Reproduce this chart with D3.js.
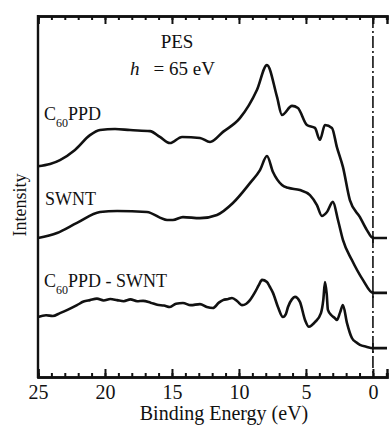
<!DOCTYPE html>
<html>
<head>
<meta charset="utf-8">
<script src="https://cdn.jsdelivr.net/npm/d3@7"></script>
<style>
  body { margin: 0; background: #fff; }
  svg text { font-family: 'Liberation Serif', 'DejaVu Serif', 'Times New Roman', Times, serif !important; fill: #111; }
</style>
</head>
<body>
<div id="chart"></div>
<script>
// binding energy (eV) and intensity (arb. units, offset per curve)
const c60Energy = [25, 24.1, 23.36, 22.24, 21.12, 20.37, 19.25, 18.13, 16.64, 15.9, 15.15, 14.25, 12.91, 12.16, 11.19, 9.93, 8.66, 7.91, 7.16, 6.79, 6.04, 5.6, 4.93, 4.33, 3.96, 3.58, 3.06, 2.69, 2.24, 1.72, 0.97, 0.45, 0, -1.05];
const c60Value  = [58.4, 59.0, 60.1, 62.9, 67.0, 68.4, 68.7, 68.4, 68.1, 66.5, 64.8, 66.5, 66.2, 65.1, 67.9, 71.7, 79.5, 86.4, 77.6, 72.6, 75.1, 74.5, 69.8, 69.0, 65.7, 69.8, 69.0, 63.7, 58.2, 49.0, 44.3, 40.7, 38.5, 38.5];

const swntEnergy = [25, 23.58, 22.09, 20.37, 19.1, 16.87, 15.37, 14.93, 14.18, 12.91, 11.64, 10.45, 9.18, 8.43, 7.91, 7.46, 6.79, 6.34, 5.45, 4.7, 4.18, 3.81, 3.43, 2.99, 2.61, 2.24, 1.57, 0.75, 0, -1.05];
const swntValue  = [38.5, 39.9, 42.7, 45.7, 46.0, 45.7, 43.5, 43.5, 44.3, 44.0, 44.9, 48.2, 53.7, 57.3, 61.2, 56.8, 53.2, 52.4, 51.8, 50.4, 47.6, 44.6, 45.7, 48.5, 43.5, 38.0, 32.4, 26.9, 23.3, 23.3];

const diffEnergy = [25, 24.4, 23.9, 23.36, 22.8, 22.09, 21.6, 21.12, 20.6, 20.1, 19.6, 19.1, 18.6, 18.1, 17.6, 17.16, 16.6, 16.1, 15.6, 15.15, 14.7, 14.18, 13.6, 12.91, 12.4, 11.94, 11.5, 11.19, 10.8, 10.52, 10.1, 9.78, 9.45, 9.18, 8.8, 8.5, 8.28, 7.91, 7.7, 7.46, 7.09, 6.72, 6.5, 6.34, 6.05, 5.82, 5.45, 5.07, 4.78, 4.55, 4.33, 3.88, 3.7, 3.58, 3.45, 3.36, 3.1, 2.84, 2.69, 2.45, 2.24, 1.94, 1.57, 1.25, 0.97, 0.5, 0, -1.05];
const diffValue  = [16.6, 17.1, 16.9, 17.7, 18.6, 19.9, 20.9, 21.3, 21.7, 21.2, 21.6, 21.3, 21.0, 21.5, 21.0, 21.1, 20.6, 20.0, 19.8, 19.4, 20.3, 20.5, 19.9, 20.2, 19.4, 19.1, 20.6, 21.3, 21.6, 21.9, 20.9, 19.9, 20.3, 21.3, 23.5, 25.6, 26.9, 26.3, 25.0, 23.3, 19.4, 16.6, 17.4, 19.4, 21.5, 22.2, 20.8, 15.8, 13.9, 14.4, 15.2, 17.7, 21.5, 26.3, 23.0, 18.6, 17.1, 16.3, 15.8, 17.9, 19.9, 15.0, 10.8, 9.6, 8.9, 8.4, 8.0, 8.0];

const seriesNames = ['C60PPD', 'SWNT', 'C60PPD - SWNT'];
const majorTicks = [25, 20, 15, 10, 5, 0];
const minorTicks = d3.range(-1, 26, 1);
const yDomain = [0, 100];
const xDomain = [25, -1.05];

const width = 390, height = 428;
const margin = { top: 16, right: 3, bottom: 51, left: 38 };
const serif = "'Liberation Serif', 'DejaVu Serif', 'Times New Roman', Times, serif";

const svg = d3.select('#chart').append('svg')
  .attr('width', width)
  .attr('height', height)
  .attr('font-family', serif);

const x = d3.scaleLinear().domain(xDomain).range([margin.left, width - margin.right]);
const y = d3.scaleLinear().domain(yDomain).range([height - margin.bottom, margin.top]);

const series = [
  { name: seriesNames[0], e: c60Energy, v: c60Value },
  { name: seriesNames[1], e: swntEnergy, v: swntValue },
  { name: seriesNames[2], e: diffEnergy, v: diffValue }
];

// dash-dot Fermi level line
svg.append('line')
  .attr('x1', x(0)).attr('x2', x(0))
  .attr('y1', y(100)).attr('y2', y(0))
  .attr('stroke', '#111')
  .attr('stroke-width', 1.6)
  .attr('stroke-dasharray', '12,3,2,3');

const line = d3.line()
  .x(d => x(d[0]))
  .y(d => y(d[1]))
  .curve(d3.curveMonotoneX);

series.forEach(s => {
  const pts = s.e.map((e, i) => [e, s.v[i]]);
  svg.append('path')
    .datum(pts)
    .attr('fill', 'none')
    .attr('stroke', '#111')
    .attr('stroke-width', 2.6)
    .attr('stroke-linejoin', 'round')
    .attr('d', line);
  // small mark where the curve crosses E = 0
  const v0 = s.v[s.e.indexOf(0)];
  svg.append('line')
    .attr('x1', x(0)).attr('x2', x(0))
    .attr('y1', y(v0) - 5).attr('y2', y(v0) + 5)
    .attr('stroke', '#111')
    .attr('stroke-width', 1.6);
});

// axes: ticks point inward
const gBottom = svg.append('g').attr('transform', `translate(0,${y(0)})`);
gBottom.call(d3.axisBottom(x).tickValues(minorTicks).tickSize(-4).tickFormat(''));
gBottom.call(g => g.append('g').call(d3.axisBottom(x).tickValues(majorTicks).tickSize(-8).tickFormat(d3.format('d'))));

const gTop = svg.append('g').attr('transform', `translate(0,${y(100)})`);
gTop.call(d3.axisTop(x).tickValues(minorTicks).tickSize(-4).tickFormat(''));
gTop.call(g => g.append('g').call(d3.axisTop(x).tickValues(majorTicks).tickSize(-8).tickFormat('')));

svg.selectAll('g').attr('font-family', serif);
svg.selectAll('.domain').attr('stroke', '#111').attr('stroke-width', 2.4);
svg.selectAll('.tick line').attr('stroke', '#111').attr('stroke-width', 2);
gBottom.selectAll('.tick text')
  .attr('y', 8)
  .attr('font-size', 20)
  .attr('fill', '#111');

svg.append('line')
  .attr('x1', margin.left).attr('x2', margin.left)
  .attr('y1', y(100) - 1).attr('y2', y(0) + 1)
  .attr('stroke', '#111')
  .attr('stroke-width', 2.4);

// axis titles
svg.append('text')
  .attr('x', 224)
  .attr('y', 420)
  .attr('text-anchor', 'middle')
  .attr('font-size', 20)
  .text('Binding Energy (eV)');

svg.append('text')
  .attr('transform', 'translate(26,205) rotate(-90)')
  .attr('text-anchor', 'middle')
  .attr('font-size', 18)
  .text('Intensity');

// annotation
svg.append('text')
  .attr('x', 177).attr('y', 48)
  .attr('text-anchor', 'middle')
  .attr('font-size', 19)
  .text('PES');

const ann = svg.append('text').attr('x', 130).attr('y', 75).attr('font-size', 19);
ann.append('tspan').attr('font-style', 'italic').text('h');
ann.append('tspan').attr('dx', 14).text('= 65 eV');

// curve labels with subscript 60
function sublabel(xp, yp, rest) {
  const t = svg.append('text').attr('x', xp).attr('y', yp).attr('font-size', 18);
  t.append('tspan').text('C');
  t.append('tspan').attr('font-size', 12).attr('dy', 7).text('60');
  t.append('tspan').attr('dy', -7).text(rest);
}
sublabel(44, 120, 'PPD');
svg.append('text').attr('x', 45).attr('y', 205).attr('font-size', 18).text(seriesNames[1]);
sublabel(44, 287, 'PPD - SWNT');
</script>
</body>
</html>
